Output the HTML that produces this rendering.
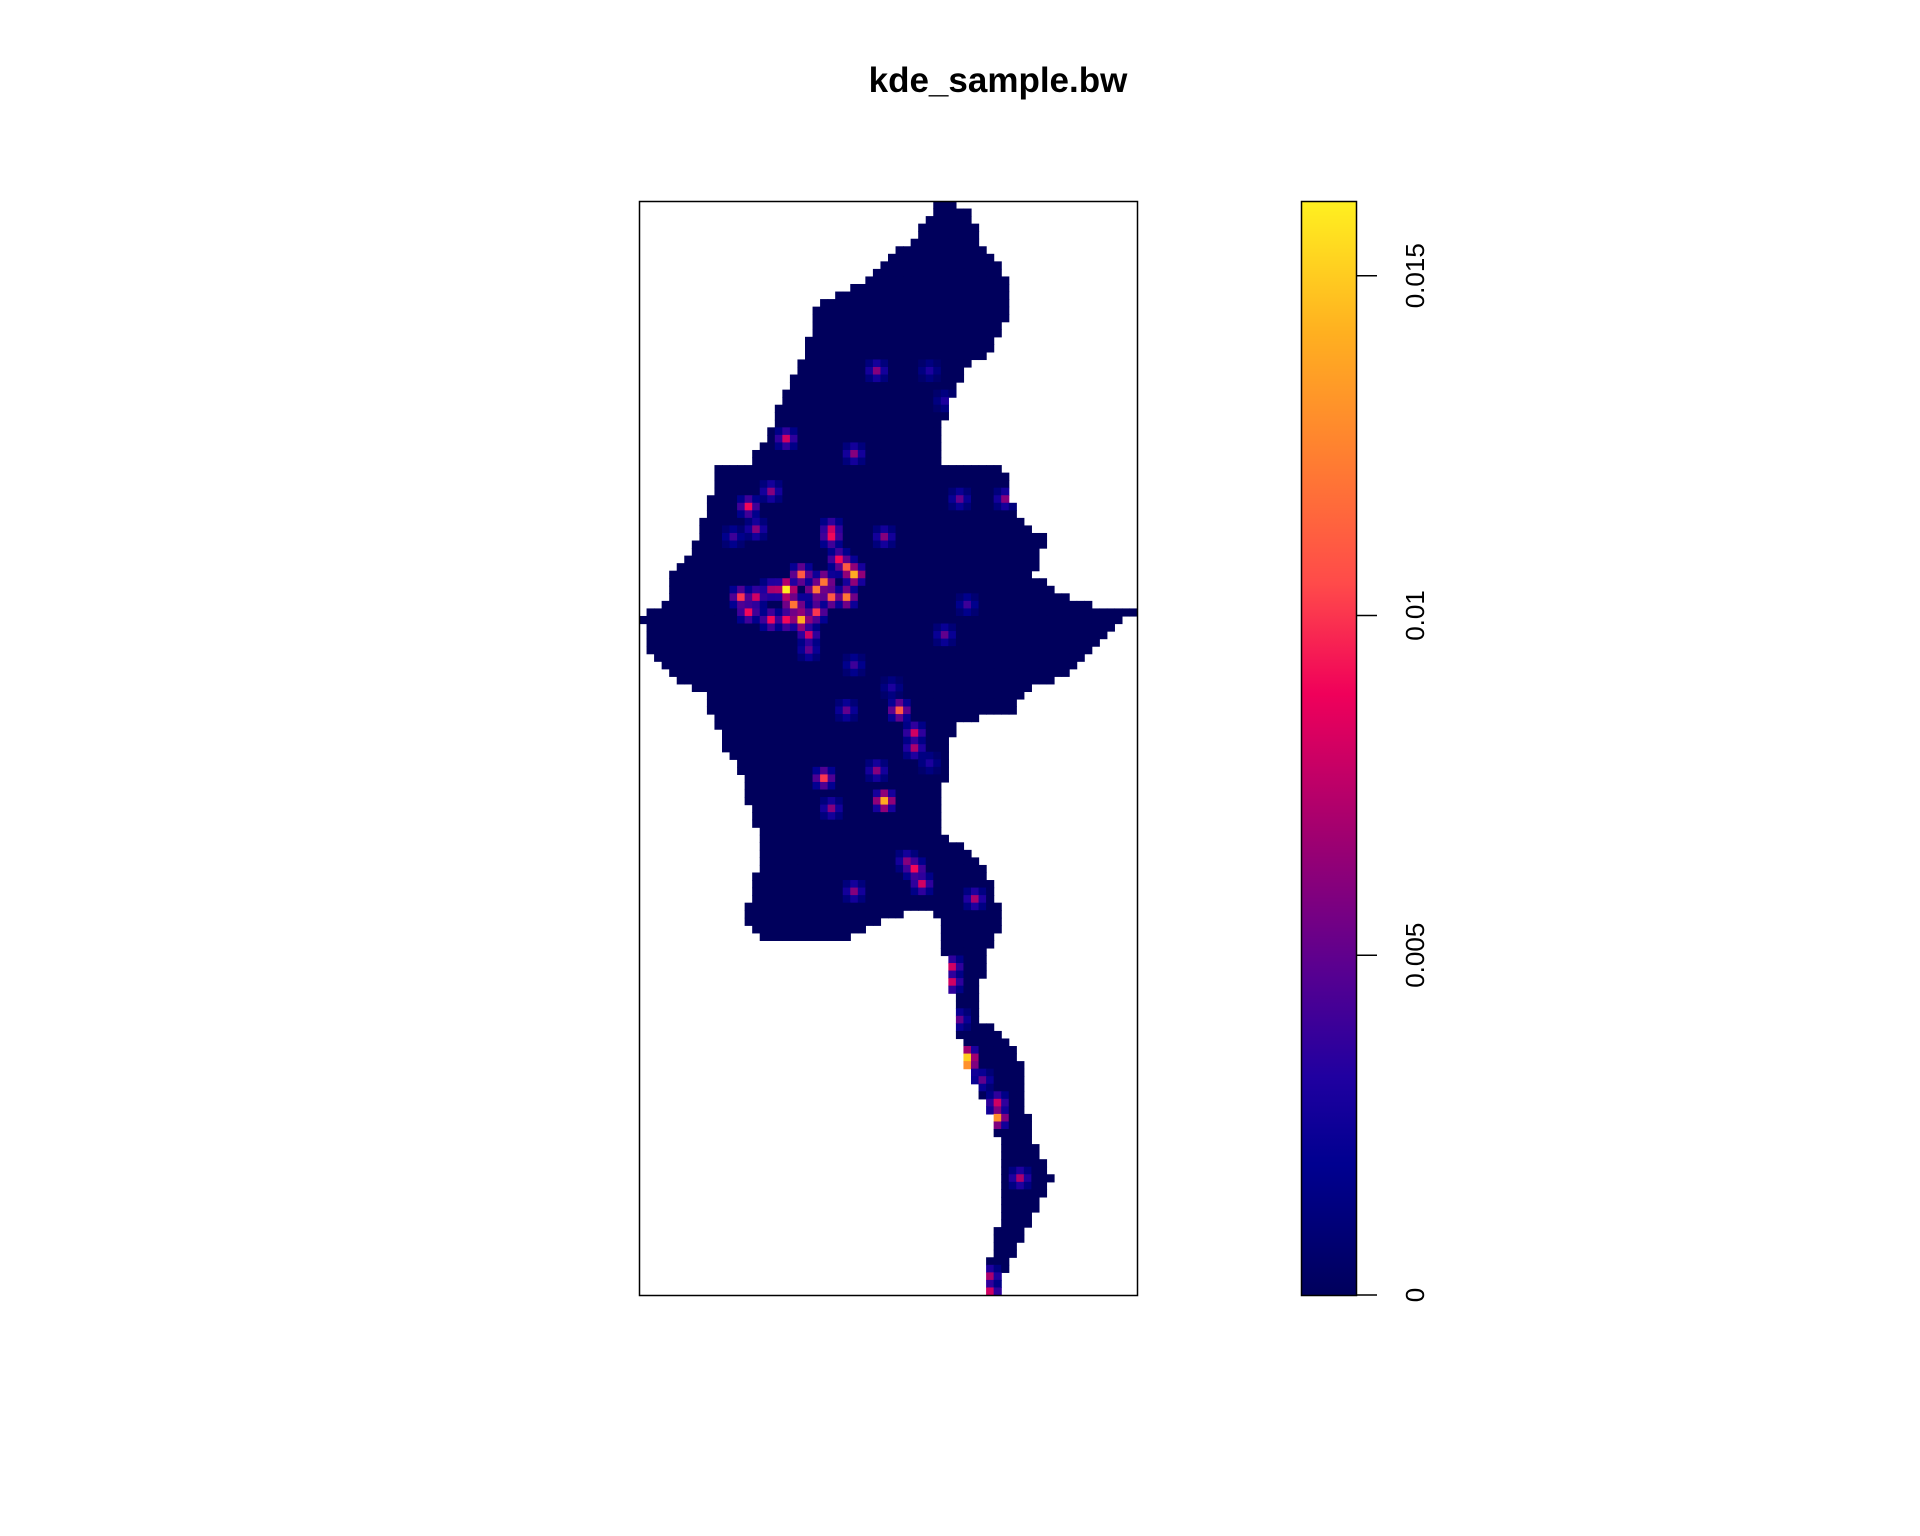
<!DOCTYPE html>
<html><head><meta charset="utf-8"><style>
html,body{margin:0;padding:0;background:#fff;}
svg{display:block;font-family:"Liberation Sans",sans-serif;}
</style></head><body>
<svg id="chart" width="1920" height="1536" viewBox="0 0 1920 1536">
<text x="998" y="92" text-anchor="middle" font-size="35" font-weight="bold">kde_sample.bw</text>
<g id="map"></g>
<rect x="639.5" y="201.5" width="498" height="1094" fill="none" stroke="#000" stroke-width="1.5"/>
<defs><linearGradient id="grad" x1="0" y1="1" x2="0" y2="0">
<stop offset="0" stop-color="#00005c"/><stop offset="0.12" stop-color="#000090"/><stop offset="0.2" stop-color="#2000a0"/>
<stop offset="0.3" stop-color="#5a0090"/><stop offset="0.42" stop-color="#a00070"/><stop offset="0.55" stop-color="#f0005a"/>
<stop offset="0.65" stop-color="#ff4a4a"/><stop offset="0.77" stop-color="#ff8030"/><stop offset="0.88" stop-color="#ffb020"/>
<stop offset="1" stop-color="#fff020"/></linearGradient></defs>
<rect x="1301.5" y="201.5" width="55" height="1094" fill="url(#grad)" stroke="#000" stroke-width="1.5"/>
<g id="cbticks"></g>
</svg>
<script>
// outline of the region (reference units)
const leftEdge=[[163,765],[175,762],[200,740],[215,720],[230,705],[250,662],[270,662],[290,655],[300,650],[320,640],[350,630],[378,612],[380,582],[400,582],[420,575],[440,570],[470,548],[490,545],[500,525],[510,525],[530,530],[550,545],[565,575],[580,580],[590,585],[610,590],[630,605],[650,610],[680,620],[700,620],[720,615],[740,610],[755,608],[770,625],[770,680],[742,745],[742,765],[770,768],[790,775],[810,778],[830,780],[850,785],[870,790],[900,805],[930,815],[960,818],[975,820],[990,818],[1010,812],[1030,808],[1050,808],[1057,808]];
const rightEdge=[[163,772],[175,795],[200,800],[215,820],[230,822],[250,822],[270,820],[290,805],[300,790],[320,780],[350,770],[378,770],[380,820],[400,825],[420,830],[440,855],[470,845],[490,875],[500,930],[510,910],[530,895],[550,870],[565,835],[580,830],[590,780],[610,775],[630,775],[650,765],[680,770],[700,800],[720,810],[740,815],[755,818],[770,810],[790,805],[810,798],[830,800],[850,825],[870,835],[900,838],[930,845],[960,860],[975,855],[990,845],[1010,835],[1030,825],[1050,818],[1057,812]];
// hotspot cells: x, y (reference units) and density value
const hotX=[640,655,665,680,690,700,685,678,680,648,655,665,630,612,605,620,610,642,630,715,700,720,735,745,750,675,680,725,715,745,755,740,798,778,779,785,793,790,805,815,812,832,785,820,770,790,810,808,700,620,600,660,700,690,672,690,660,645,628,770,760,730,760];
const hotY=[482,470,480,485,465,468,455,440,430,495,508,500,505,500,490,490,415,360,400,305,370,435,580,598,610,638,660,655,630,710,720,700,735,790,800,830,860,868,880,910,902,960,410,410,517,495,1040,1055,725,432,440,528,540,580,475,490,515,505,480,330,300,560,620];
const hotV=[0.016,0.011,0.012,0.011,0.011,0.014,0.009,0.009,0.008,0.012,0.014,0.01,0.009,0.009,0.01,0.008,0.009,0.008,0.006,0.006,0.006,0.006,0.011,0.008,0.007,0.01,0.006,0.014,0.006,0.009,0.008,0.006,0.007,0.008,0.008,0.005,0.015,0.013,0.005,0.013,0.008,0.007,0.005,0.006,0.005,0.004,0.007,0.008,0.006,0.006,0.004,0.005,0.004,0.005,0.012,0.012,0.008,0.009,0.007,0.003,0.003,0.003,0.003];
const tickVals=[0,0.005,0.01,0.015];
const tickLabels=["0","0.005","0.01","0.015"];
const vMax=0.0161;

const NS='http://www.w3.org/2000/svg';
const sx=v=>v*1.224, sy=v=>v*1.2255;
const box={x:639,y:201,w:498,h:1094}, nc=66, nr=145, cw=box.w/nc, ch=box.h/nr;
const cy=v=>box.y+box.h-(v/vMax)*box.h;
const stops=[[0,[0,0,92]],[0.12,[0,0,144]],[0.2,[32,0,160]],[0.3,[90,0,144]],[0.42,[160,0,112]],[0.55,[240,0,90]],[0.65,[255,74,74]],[0.77,[255,128,48]],[0.88,[255,176,32]],[1,[255,240,32]]];
function col(v){let t=Math.max(0,Math.min(1,v/vMax));for(let i=1;i<stops.length;i++){if(t<=stops[i][0]){const a=stops[i-1],b=stops[i],f=(t-a[0])/(b[0]-a[0]);const c=a[1].map((x,k)=>Math.round(x+(b[1][k]-x)*f));return `rgb(${c})`;}}return 'rgb(255,240,32)';}
const poly=leftEdge.map(p=>[sx(p[1]),sy(p[0])]).concat(rightEdge.slice().reverse().map(p=>[sx(p[1]),sy(p[0])]));
function inside(x,y){let c=false;for(let i=0,j=poly.length-1;i<poly.length;j=i++){const [xi,yi]=poly[i],[xj,yj]=poly[j];if(((yi>y)!=(yj>y))&&(x<(xj-xi)*(y-yi)/(yj-yi)+xi))c=!c;}return c;}
const map=document.getElementById('map');
const vals={};
for(let r=0;r<nr;r++)for(let c=0;c<nc;c++){const x=box.x+(c+0.5)*cw,y=box.y+(r+0.5)*ch;if(inside(x,y))vals[r+','+c]=0;}
for(let i=0;i<hotX.length;i++){const c=Math.floor((sx(hotX[i])-box.x)/cw),r=Math.floor((sy(hotY[i])-box.y)/ch);
 for(let dr=-1;dr<=1;dr++)for(let dc=-1;dc<=1;dc++){const k=(r+dr)+','+(c+dc);if(!(k in vals))continue;const w=(dr==0&&dc==0)?1:((dr==0||dc==0)?0.45:0.2);vals[k]=Math.max(vals[k],hotV[i]*w);}}
for(const k in vals){const [r,c]=k.split(',').map(Number);const el=document.createElementNS(NS,'rect');
 el.setAttribute('x',(box.x+c*cw).toFixed(2));el.setAttribute('y',(box.y+r*ch).toFixed(2));
 el.setAttribute('width',(cw+0.6).toFixed(2));el.setAttribute('height',(ch+0.6).toFixed(2));el.setAttribute('fill',col(vals[k]));
 
 
 map.appendChild(el);}
const g=document.getElementById('cbticks');
tickVals.forEach((v,i)=>{const y=cy(v);const l=document.createElementNS(NS,'line');
 l.setAttribute('x1',1357);l.setAttribute('x2',1377);l.setAttribute('y1',y);l.setAttribute('y2',y);l.setAttribute('stroke','#000');l.setAttribute('stroke-width','1.5');
 
 
 g.appendChild(l);
 const t=document.createElementNS(NS,'text');t.setAttribute('x',0);t.setAttribute('y',0);t.setAttribute('font-size','26');t.setAttribute('text-anchor','middle');
 t.setAttribute('transform',`translate(1424,${y}) rotate(-90)`);t.textContent=tickLabels[i];
 
 
 g.appendChild(t);});
</script>
</body></html>
